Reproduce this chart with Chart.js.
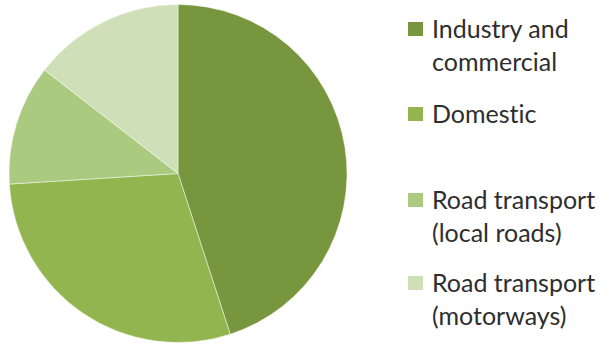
<!DOCTYPE html>
<html>
<head>
<meta charset="utf-8">
<script src="https://cdn.jsdelivr.net/npm/chart.js@4"></script>
<style>
    body { margin: 0; background: #fff; }
    #wrap { position: relative; width: 605px; height: 347px; }
    #pie-box { position: absolute; left: 0; top: 0; width: 356px; height: 347px; }
    .leg-item { position: absolute; left: 408px; font-family: Lato, "Open Sans", sans-serif; font-size: 25px; line-height: 33px; color: #2e2e2e; font-variant-ligatures: none; }
    .leg-box { position: absolute; left: 0; top: 10px; width: 15px; height: 14px; }
    .leg-text { margin-left: 24px; white-space: nowrap; }
</style>
</head>
<body>
<div id="wrap">
    <div id="pie-box"><canvas id="pieChart"></canvas></div>
    <div id="legend"></div>
</div>
<script>
// datos (porcentajes aproximados)
const categorias = [
    ['Industry and', 'commercial'],
    ['Domestic'],
    ['Road transport', '(local roads)'],
    ['Road transport', '(motorways)']
];
const valores = [45, 29, 11.5, 14.5];
const colores = ['#77963e', '#92b54f', '#aacb7f', '#cfe0b8'];
const posicionesLeyenda = [12, 97, 183, 266];

function initChart() {
    const ctx = document.getElementById('pieChart').getContext('2d');
    new Chart(ctx, {
        type: 'pie',
        data: {
            labels: categorias.map(c => c.join(' ')),
            datasets: [{
                data: valores,
                backgroundColor: colores,
                borderColor: 'rgba(255,255,255,0.45)',
                borderWidth: 1
            }]
        },
        options: {
            responsive: true,
            maintainAspectRatio: false,
            animation: false,
            layout: { padding: { top: 4, bottom: 4, left: 0, right: 0 } },
            plugins: {
                legend: { display: false },
                tooltip: { enabled: false }
            }
        }
    });
}

function buildLegend() {
    const legend = document.getElementById('legend');
    categorias.forEach((lineas, i) => {
        const item = document.createElement('div');
        item.className = 'leg-item';
        item.style.top = posicionesLeyenda[i] + 'px';
        item.innerHTML = `<div class="leg-box" style="background:${colores[i]}"></div>` +
            `<div class="leg-text">${lineas.join('<br>')}</div>`;
        legend.appendChild(item);
    });
}

window.onload = () => {
    initChart();
    buildLegend();
};
</script>
</body>
</html>
